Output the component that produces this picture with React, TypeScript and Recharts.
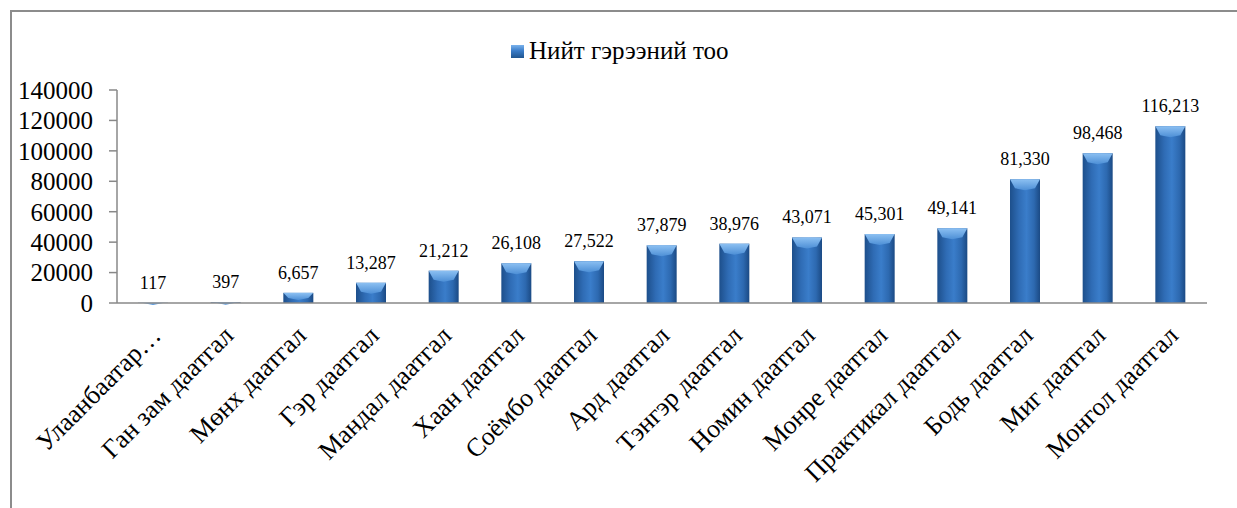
import React from 'react';
import { BarChart, Bar, XAxis, YAxis, LabelList } from 'recharts';

const companies = [
  'Улаанбаатар…',
  'Ган зам даатгал',
  'Мөнх даатгал',
  'Гэр даатгал',
  'Мандал даатгал',
  'Хаан даатгал',
  'Соёмбо даатгал',
  'Ард даатгал',
  'Тэнгэр даатгал',
  'Номин даатгал',
  'Монре даатгал',
  'Практикал даатгал',
  'Бодь даатгал',
  'Миг даатгал',
  'Монгол даатгал',
];
const contracts = [117, 397, 6657, 13287, 21212, 26108, 27522, 37879, 38976, 43071, 45301, 49141, 81330, 98468, 116213];
const yTicks = [0, 20000, 40000, 60000, 80000, 100000, 120000, 140000];
const seriesName = 'Нийт гэрээний тоо';

const data = companies.map((name, i) => ({ name, value: contracts[i] }));

const FONT = '"Liberation Serif", "Times New Roman", "DejaVu Serif", serif';
const AXIS = '#888888';

function BevelBar(props: any) {
  const { x, y, width, height } = props;
  if (height == null || height <= 0) return null;
  const bevel = Math.min(9, height / 2);
  return (
    <g>
      <rect x={x} y={y} width={width} height={height} fill="url(#barBody)" />
      <polygon
        points={`${x},${y} ${x + width},${y} ${x + width - 5},${y + bevel} ${x + width / 2},${y + bevel + 2} ${x + 5},${y + bevel}`}
        fill="url(#barTop)"
      />
    </g>
  );
}

function XTick(props: any) {
  const { x, y, payload } = props;
  const ax = x + 9;
  const ay = y + 26;
  return (
    <text
      x={ax}
      y={ay}
      transform={`rotate(-45, ${ax}, ${ay})`}
      textAnchor="end"
      fontFamily={FONT}
      fontSize={26}
      fill="#000"
    >
      {payload.value}
    </text>
  );
}

export default function App() {
  return (
    <div style={{ position: 'fixed', left: 0, top: 0, width: 1237, height: 508, background: '#fff', overflow: 'hidden' }}>
      <div
        style={{
          position: 'absolute',
          left: 10,
          top: 10,
          width: 1240,
          height: 520,
          borderLeft: '2px solid #8c8c8c',
          borderTop: '2px solid #8c8c8c',
        }}
      />
      <div style={{ position: 'absolute', left: 0, top: 0 }}>
        <BarChart
          width={1237}
          height={508}
          data={data}
          margin={{ top: 90, right: 30, left: 0, bottom: 0 }}
        >
          <defs>
            <linearGradient id="barBody" x1="0" y1="0" x2="1" y2="0">
              <stop offset="0%" stopColor="#1d4f8b" />
              <stop offset="30%" stopColor="#2f6cb5" />
              <stop offset="55%" stopColor="#3a7dca" />
              <stop offset="80%" stopColor="#2d69b0" />
              <stop offset="100%" stopColor="#1b4a84" />
            </linearGradient>
            <linearGradient id="barTop" x1="0" y1="0" x2="0" y2="1">
              <stop offset="0%" stopColor="#8cc0f2" />
              <stop offset="100%" stopColor="#4d8fd6" />
            </linearGradient>
            <linearGradient id="legendIcon" x1="0" y1="0" x2="0" y2="1">
              <stop offset="0%" stopColor="#7ab2ec" />
              <stop offset="45%" stopColor="#3a7cc8" />
              <stop offset="100%" stopColor="#1f558f" />
            </linearGradient>
          </defs>
          <g>
            <rect x={511} y={45} width={13} height={13} fill="url(#legendIcon)" />
            <text x={529} y={59} fontFamily={FONT} fontSize={25} fill="#000">
              {seriesName}
            </text>
          </g>
          <YAxis
            domain={[0, 140000]}
            ticks={yTicks}
            interval={0}
            width={117}
            stroke={AXIS}
            strokeWidth={1.5}
            tickSize={8}
            tickMargin={16}
            tick={{ fontFamily: FONT, fontSize: 25, fill: '#000' }}
          />
          <XAxis
            dataKey="name"
            interval={0}
            height={205}
            stroke={AXIS}
            strokeWidth={1.5}
            tickLine={false}
            tick={<XTick />}
          />
          <Bar dataKey="value" name={seriesName} barSize={30} shape={<BevelBar />} isAnimationActive={false}>
            <LabelList
              dataKey="value"
              position="top"
              offset={14}
              formatter={(v: any) => Number(v).toLocaleString('en-US')}
              style={{ fontFamily: FONT, fontSize: 18, fill: '#000' }}
            />
          </Bar>
        </BarChart>
      </div>
    </div>
  );
}
